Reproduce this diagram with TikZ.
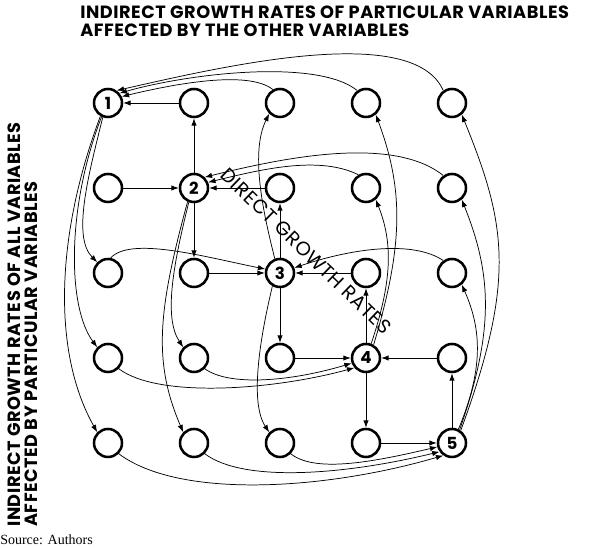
\documentclass[tikz,border=0pt]{standalone}
\usepackage{fontspec}
\setmainfont{Liberation Serif}
\newfontfamily\gothic{Poppins}[LetterSpace=3.0]
\usetikzlibrary{positioning, arrows.meta}

\begin{document}
\begin{tikzpicture}[
    x=0.75pt, y=-0.75pt,
    node distance=63.75pt and 64.5pt, on grid,
    var/.style={circle, draw=black, line width=1.9pt, minimum size=21pt, inner sep=0pt, font=\gothic\bfseries\fontsize{12.5}{13}\selectfont},
    direct/.style={-{Latex[length=5.5pt, width=4pt]}, line width=0.6pt},
    indirect/.style={-{Latex[length=5.5pt, width=4pt]}, line width=0.55pt},
    heading/.style={font=\gothic\bfseries\fontsize{13.3}{13}\selectfont, align=left, inner sep=0pt}
]
\useasboundingbox (0,0) rectangle (601,548);

% Variables
\node[var] (n11) at (108,103) {1};
\node[var, right=of n11] (n12) {};
\node[var, right=of n12] (n13) {};
\node[var, right=of n13] (n14) {};
\node[var, right=of n14] (n15) {};
\node[var, below=of n11] (n21) {};
\node[var, right=of n21] (n22) {2};
\node[var, right=of n22] (n23) {};
\node[var, right=of n23] (n24) {};
\node[var, right=of n24] (n25) {};
\node[var, below=of n21] (n31) {};
\node[var, right=of n31] (n32) {};
\node[var, right=of n32] (n33) {3};
\node[var, right=of n33] (n34) {};
\node[var, right=of n34] (n35) {};
\node[var, below=of n31] (n41) {};
\node[var, right=of n41] (n42) {};
\node[var, right=of n42] (n43) {};
\node[var, right=of n43] (n44) {4};
\node[var, right=of n44] (n45) {};
\node[var, below=of n41] (n51) {};
\node[var, right=of n51] (n52) {};
\node[var, right=of n52] (n53) {};
\node[var, right=of n53] (n54) {};
\node[var, right=of n54] (n55) {5};

% Direct growth rates
\draw[direct] (n12) -- (n11);
\draw[direct] (n21) -- (n22);
\draw[direct] (n23) -- (n22);
\draw[direct] (n22) -- (n12);
\draw[direct] (n22) -- (n32);
\draw[direct] (n32) -- (n33);
\draw[direct] (n34) -- (n33);
\draw[direct] (n33) -- (n23);
\draw[direct] (n33) -- (n43);
\draw[direct] (n43) -- (n44);
\draw[direct] (n45) -- (n44);
\draw[direct] (n44) -- (n34);
\draw[direct] (n44) -- (n54);
\draw[direct] (n54) -- (n55);
\draw[direct] (n55) -- (n45);

% Indirect, along the rows
\draw[indirect] (n13.118) .. controls +(-25,-20) and +(50,-12) .. (n11.25);
\draw[indirect] (n14.125) .. controls +(-40,-32) and +(70,-20) .. (n11.40);
\draw[indirect] (n15.125) .. controls +(-30,-68) and +(110,-25) .. (n11.55);
\draw[indirect] (n24.120) .. controls +(-40,-20) and +(50,-12) .. (n22.22);
\draw[indirect] (n25.125) .. controls +(-50,-40) and +(80,-20) .. (n22.45);
\draw[indirect] (n31.80) .. controls +(20,-22) and +(-60,-12) .. (n33.165);
\draw[indirect] (n35.125) .. controls +(-30,-20) and +(60,-20) .. (n33.20);
\draw[indirect] (n42.-45) .. controls +(25,18) and +(-60,18) .. (n44.200);
\draw[indirect] (n41.-45) .. controls +(40,30) and +(-80,22) .. (n44.220);
\draw[indirect] (n53.-45) .. controls +(25,20) and +(-60,14) .. (n55.195);
\draw[indirect] (n52.-45) .. controls +(40,30) and +(-90,22) .. (n55.215);
\draw[indirect] (n51.-45) .. controls +(60,45) and +(-120,35) .. (n55.235);

% Indirect, along the columns
\draw[indirect] (n11.250) .. controls +(-15,60) and +(-25,-25) .. (n31.135);
\draw[indirect] (n11.245) .. controls +(-35,90) and +(-30,-40) .. (n41.135);
\draw[indirect] (n11.240) .. controls +(-45,120) and +(-45,-80) .. (n51.135);
\draw[indirect] (n22.250) .. controls +(-15,60) and +(-20,-30) .. (n42.135);
\draw[indirect] (n22.245) .. controls +(-30,110) and +(-30,-70) .. (n52.135);
\draw[indirect] (n33.110) .. controls +(-10,-40) and +(-20,40) .. (n13.225);
\draw[indirect] (n33.240) .. controls +(-12,50) and +(-20,-30) .. (n53.135);
\draw[indirect] (n44.70) .. controls +(20,-60) and +(18,45) .. (n24.-50);
\draw[indirect] (n44.60) .. controls +(30,-100) and +(28,75) .. (n14.-50);
\draw[indirect] (n55.65) .. controls +(25,-60) and +(20,45) .. (n35.-50);
\draw[indirect] (n55.60) .. controls +(35,-100) and +(30,75) .. (n25.-50);
\draw[indirect] (n55.55) .. controls +(55,-150) and +(45,110) .. (n15.-50);

% Texts
\node[heading, anchor=north west] (title) at (80,6) {INDIRECT GROWTH RATES OF PARTICULAR VARIABLES\\AFFECTED BY THE OTHER VARIABLES};
\node[heading, rotate=90, anchor=south west] (side) at (38,527) {INDIRECT GROWTH RATES OF ALL VARIABLES\\AFFECTED BY PARTICULAR VARIABLES};
\node[font=\gothic\fontsize{14.6}{14}\selectfont, rotate=-44] (diag) at (306,251) {DIRECT GROWTH RATES};
\node[anchor=south west, inner sep=0pt, font=\fontsize{10.5}{12}\selectfont] (source) at (0,545) {Source: Authors};
\end{tikzpicture}
\end{document}
